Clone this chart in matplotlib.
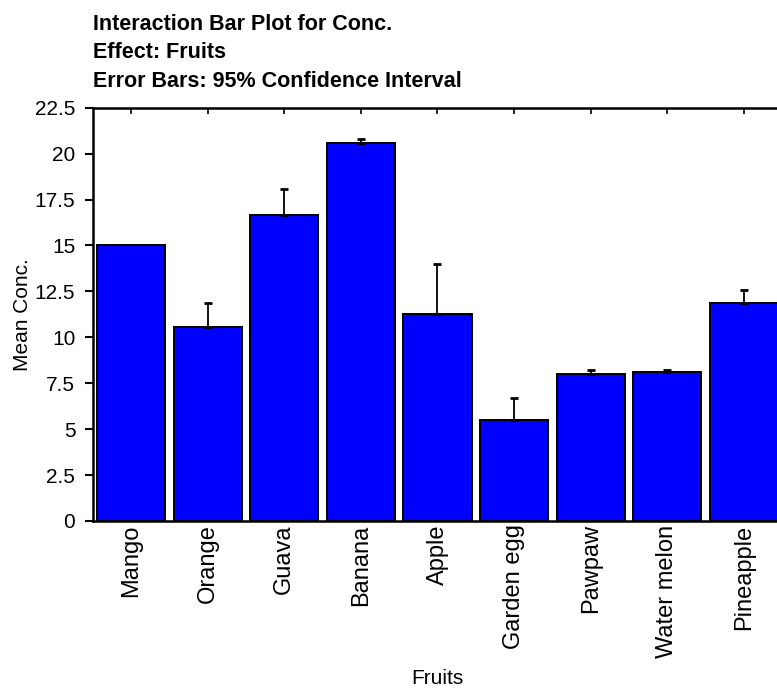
import matplotlib
matplotlib.use("Agg")
import matplotlib.pyplot as plt
import numpy as np

fruits = ["Mango", "Orange", "Guava", "Banana", "Apple", "Garden egg",
          "Pawpaw", "Water melon", "Pineapple"]
means = [15.0, 10.58, 16.67, 20.58, 11.27, 5.50, 8.00, 8.09, 11.88]
ci95 = [0.0, 1.27, 1.40, 0.21, 2.72, 1.18, 0.20, 0.11, 0.69]
yticks = [0, 2.5, 5, 7.5, 10, 12.5, 15, 17.5, 20, 22.5]
ytick_labels = ["0", "2.5", "5", "7.5", "10", "12.5", "15", "17.5", "20", "22.5"]

plt.rcParams['font.family'] = ['Liberation Sans', 'DejaVu Sans']

fig = plt.figure(figsize=(7.77, 6.92), dpi=100)
ax = fig.add_axes([92.7 / 777, (692 - 521) / 692, (782.3 - 92.7) / 777, 413.3 / 692])

x = np.arange(len(fruits))
ax.bar(x, means, width=0.89, color="#0000ff", edgecolor="black", linewidth=1.4, zorder=2)
err = np.array(ci95)
has_err = err > 0
ax.errorbar(x[has_err], np.array(means)[has_err],
            yerr=[np.zeros(has_err.sum()), err[has_err]], fmt="none", ecolor="black",
            elinewidth=1.3, capsize=2.8, capthick=2.0, zorder=3)

ax.set_xlim(-0.5, len(fruits) - 0.5)
ax.set_ylim(0, 22.5)
ax.set_yticks(yticks)
ax.set_yticklabels(ytick_labels)
ax.set_xticks(x)
ax.set_xticklabels(fruits, rotation=90, va="top", ha="center")

ax.tick_params(axis="y", direction="out", length=5.5, width=1.5, labelsize=15, pad=7)
ax.tick_params(axis="x", which="both", bottom=False, top=True, direction="in",
               length=4, width=1.2, labelsize=17, pad=2.5, labelbottom=True, labeltop=False)

for s in ["left", "top", "bottom"]:
    ax.spines[s].set_linewidth(1.8)
ax.spines["right"].set_visible(False)

ax.set_ylabel("Mean Conc.", fontsize=15, labelpad=2)
ax.set_xlabel("Fruits", fontsize=15, labelpad=8)

titles = ["Interaction Bar Plot for Conc.", "Effect: Fruits",
          "Error Bars: 95% Confidence Interval"]
baselines = [30, 58.5, 87]
for t, b in zip(titles, baselines):
    fig.text(93 / 777, 1 - b / 692, t, fontsize=15.5, fontweight="bold",
             ha="left", va="baseline")

fig.savefig("out.png", dpi=100)
